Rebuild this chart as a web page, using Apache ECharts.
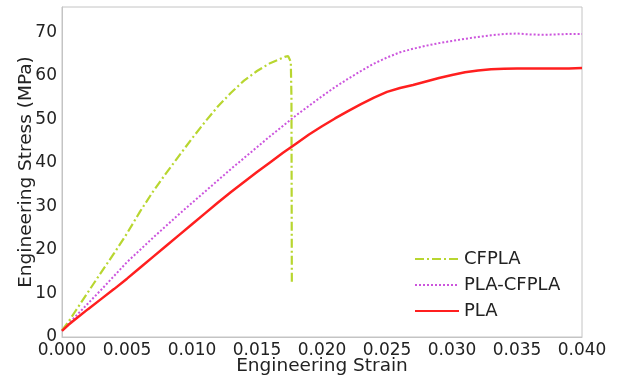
<!DOCTYPE html>
<html>
<head>
<meta charset="utf-8">
<script src="https://cdn.jsdelivr.net/npm/echarts@6/dist/echarts.min.js"></script>
<style>
  html, body { margin: 0; padding: 0; background: #fff; }
  #chart { width: 620px; height: 379px; }
</style>
</head>
<body>
<div id="chart"></div>
<script>
const cfplaStrain = [0, 0.0005, 0.001, 0.002, 0.003, 0.004, 0.005, 0.006, 0.007, 0.008, 0.009, 0.010,
  0.011, 0.012, 0.013, 0.014, 0.015, 0.016, 0.0168, 0.0172, 0.0174, 0.0176, 0.01765, 0.01768];
const cfplaStress = [1.5, 3.5, 5.8, 10.3, 14.8, 19.2, 23.8, 28.8, 33.4, 37.6, 41.6, 45.6,
  49.4, 53.0, 56.1, 58.9, 61.1, 62.9, 63.9, 64.4, 64.5, 63.2, 55.0, 12.4];

const blendStrain = [0, 0.0005, 0.001, 0.002, 0.003, 0.004, 0.005, 0.006, 0.007, 0.008, 0.009, 0.010,
  0.011, 0.012, 0.013, 0.014, 0.015, 0.016, 0.017, 0.018, 0.019, 0.020, 0.021, 0.022, 0.023, 0.024,
  0.025, 0.026, 0.027, 0.028, 0.029, 0.030, 0.031, 0.032, 0.033, 0.034, 0.035, 0.036, 0.037, 0.038,
  0.039, 0.040];
const blendStress = [1.4, 3.0, 4.6, 7.7, 10.8, 14.0, 17.2, 20.0, 22.8, 25.5, 28.2, 30.8,
  33.4, 36.0, 38.6, 41.1, 43.6, 46.1, 48.5, 50.9, 53.1, 55.3, 57.4, 59.3, 61.1, 62.8,
  64.2, 65.4, 66.2, 66.9, 67.5, 68.0, 68.5, 68.9, 69.3, 69.6, 69.7, 69.5, 69.4, 69.5,
  69.6, 69.6];

const plaStrain = blendStrain;
const plaStress = [1.4, 2.8, 4.0, 6.4, 8.7, 11.0, 13.4, 15.9, 18.4, 20.9, 23.4, 25.9,
  28.4, 30.9, 33.3, 35.6, 37.9, 40.1, 42.3, 44.4, 46.5, 48.4, 50.2, 51.9, 53.5, 55.0,
  56.3, 57.2, 57.9, 58.7, 59.5, 60.2, 60.8, 61.2, 61.5, 61.6, 61.7, 61.7, 61.7, 61.7,
  61.7, 61.8];

const seriesNames = ["CFPLA", "PLA-CFPLA", "PLA"];

const pairs = (xs, ys) => xs.map((x, i) => [x, ys[i]]);

const font = "DejaVu Sans";
const chart = echarts.init(document.getElementById("chart"));

chart.setOption({
  animation: false,
  textStyle: { fontFamily: font },
  grid: {
    left: 62, right: 38, top: 7, bottom: 42,
    outerBoundsMode: "none",
    show: true, borderColor: "#c4c4c4", borderWidth: 1,
  },
  legend: {
    orient: "vertical",
    left: 409, top: 245,
    itemWidth: 44, itemHeight: 14, itemGap: 8,
    itemStyle: { opacity: 0 },
    textStyle: { fontFamily: font, fontSize: 18, color: "#222" },
    data: seriesNames,
  },
  xAxis: {
    type: "value",
    min: 0, max: 0.04, interval: 0.005,
    name: "Engineering Strain",
    nameLocation: "middle", nameGap: 20, nameMoveOverlap: false,
    nameTextStyle: { fontFamily: font, fontSize: 18.5, color: "#222" },
    axisLine: { show: true, lineStyle: { color: "#c4c4c4" } },
    axisTick: { show: false },
    splitLine: { show: false },
    axisLabel: {
      fontFamily: font, fontSize: 17, color: "#222", margin: 5,
      formatter: (v) => v.toFixed(3),
    },
  },
  yAxis: {
    type: "value",
    min: 0, max: 75.8, interval: 10,
    name: "Engineering Stress (MPa)",
    nameLocation: "middle", nameGap: 26, nameRotate: 90, nameMoveOverlap: false,
    nameTextStyle: { fontFamily: font, fontSize: 18.5, color: "#222" },
    axisLine: { show: true, lineStyle: { color: "#c4c4c4" } },
    axisTick: { show: false },
    splitLine: { show: false },
    axisLabel: {
      fontFamily: font, fontSize: 17, color: "#222", margin: 5,
      showMaxLabel: false,
      formatter: (v) => String(Math.round(v)),
    },
  },
  series: [
    {
      name: seriesNames[0],
      type: "line",
      symbol: "none",
      data: pairs(cfplaStrain, cfplaStress),
      lineStyle: { color: "#b8d630", width: 2.2, type: [9, 3, 2, 3] },
      itemStyle: { color: "#b8d630" },
      z: 3,
    },
    {
      name: seriesNames[1],
      type: "line",
      symbol: "none",
      data: pairs(blendStrain, blendStress),
      lineStyle: { color: "#cc55dd", width: 2, type: [2, 2] },
      itemStyle: { color: "#cc55dd" },
      z: 2,
    },
    {
      name: seriesNames[2],
      type: "line",
      symbol: "none",
      data: pairs(plaStrain, plaStress),
      lineStyle: { color: "#ff1f1f", width: 2.5 },
      itemStyle: { color: "#ff1f1f" },
      z: 4,
    },
  ],
});
</script>
</body>
</html>
